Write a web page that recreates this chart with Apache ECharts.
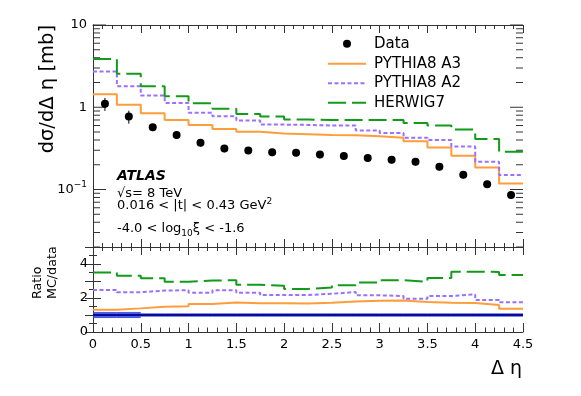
<!DOCTYPE html>
<html><head><meta charset="utf-8">
<script src="https://cdn.jsdelivr.net/npm/echarts@6/dist/echarts.min.js"></script>
<style>html,body{margin:0;padding:0;background:#fff}#c{width:581px;height:396px}</style>
</head><body><div id="c"></div>
<script>
// ---- data ----
const binEdges = [0,0.25,0.5,0.75,1,1.25,1.5,1.75,2,2.25,2.5,2.75,3,3.25,3.5,3.75,4,4.25,4.5];
const dataVals = [1.10,0.77,0.57,0.46,0.37,0.315,0.299,0.283,0.280,0.267,0.255,0.241,0.230,0.218,0.189,0.151,0.116,0.086];
const dataRelErr = [0.18,0.18,0.10,0.10,0.10,0.10,0.10,0.10,0.10,0.10,0.10,0.10,0.10,0.10,0.10,0.10,0.10,0.10];
const pythiaA3 = [1.44,1.07,0.845,0.70,0.61,0.545,0.505,0.48,0.47,0.46,0.456,0.443,0.427,0.385,0.325,0.258,0.185,0.118];
const pythiaA2 = [2.72,1.80,1.39,1.13,0.855,0.775,0.69,0.615,0.61,0.60,0.60,0.52,0.487,0.427,0.40,0.334,0.218,0.150];
const herwig7 = [3.85,2.55,1.80,1.36,1.12,0.96,0.83,0.77,0.71,0.70,0.70,0.70,0.70,0.645,0.60,0.535,0.41,0.288];
const seriesNames = ['Data','PYTHIA8 A3','PYTHIA8 A2','HERWIG7'];
const logMantissas = [1,2,3,4,5,6,7,8,9];
const logDecades = [0.01,0.1,1,10];

const FONT = 'DejaVu Sans';
const C_A3 = '#ff9c3c', C_A2 = '#9a70ff', C_H7 = '#129a1a';

function stepData(vals){
  const d = vals.map((v,i)=>[binEdges[i], v]);
  d.push([binEdges[vals.length], vals[vals.length-1]]);
  return d;
}
function ratio(vals){ return vals.map((v,i)=>v/dataVals[i]); }
const centers = dataVals.map((v,i)=>(binEdges[i]+binEdges[i+1])/2);

// y ticks of log axis (major at decades)
const yTicks = [];
logDecades.forEach(d=>logMantissas.forEach(m=>{
  const v = +(m*d).toPrecision(6);
  if (v >= 0.02 - 1e-9 && v <= 10 + 1e-9) yTicks.push([0, v, m===1?1:0]);
}));

function isDecade(v){ const l = Math.log10(v); return Math.abs(l-Math.round(l))<1e-6; }

const axisLineStyle = {color:'#333', width:1};
function xAx(grid, pos, labels, majLen, minLen){
  return {type:'value', gridIndex:grid, position:pos, min:0, max:4.5, interval:0.5,
    axisLine:{show:true, onZero:false, lineStyle:axisLineStyle},
    axisTick:{show:true, inside:true, length:majLen, lineStyle:{color:'#333'}},
    minorTick:{show:true, splitNumber:5, length:minLen, lineStyle:{color:'#333'}},
    splitLine:{show:false}, minorSplitLine:{show:false},
    axisLabel:{show:labels, margin:6, color:'#000', fontFamily:FONT, fontSize:13}};
}

const chart = echarts.init(document.getElementById('c'), null, {renderer:'canvas'});
chart.setOption({
  animation:false,
  backgroundColor:'#fff',
  grid:[
    {left:93, top:25, width:430, height:222},
    {left:93, top:247, width:430, height:85}
  ],
  xAxis:[
    xAx(0,'bottom',false,8,4),
    xAx(0,'top',false,8,4),
    xAx(1,'bottom',true,9,4.5),
    xAx(1,'top',false,8,4)
  ],
  yAxis:[
    {type:'log', logBase:10, gridIndex:0, position:'left', min:0.02, max:10,
     axisLine:{show:true, lineStyle:axisLineStyle}, axisTick:{show:false}, splitLine:{show:false},
     axisLabel:{margin:6, color:'#000', fontFamily:FONT, fontSize:13,
       formatter:v=>{ if(!isDecade(v)) return ''; const n=Math.round(Math.log10(v));
         if(n===0) return '1'; if(n===1) return '10'; return '{b|10}{s|\u2212' + (-n) + '}'; },
       rich:{b:{fontFamily:FONT, fontSize:13, color:'#000'}, s:{fontFamily:FONT, fontSize:9, color:'#000', padding:[0,0,9,0]}}}},
    {type:'log', logBase:10, gridIndex:0, position:'right', min:0.02, max:10,
     axisLine:{show:true, lineStyle:axisLineStyle}, axisTick:{show:false}, splitLine:{show:false}, axisLabel:{show:false}},
    {type:'value', gridIndex:1, position:'left', min:0, max:5, interval:1,
     axisLine:{show:true, lineStyle:axisLineStyle},
     axisTick:{show:true, inside:true, length:8, lineStyle:{color:'#333'}},
     minorTick:{show:true, splitNumber:2, length:4, lineStyle:{color:'#333'}},
     splitLine:{show:false},
     axisLabel:{margin:5, color:'#000', fontFamily:FONT, fontSize:13, formatter:v=>(v%2===0 && v<5)? String(v):''}},
    {type:'value', gridIndex:1, position:'right', min:0, max:5, interval:1,
     axisLine:{show:true, lineStyle:axisLineStyle},
     axisTick:{show:true, inside:true, length:8, lineStyle:{color:'#333'}},
     minorTick:{show:true, splitNumber:2, length:4, lineStyle:{color:'#333'}},
     splitLine:{show:false}, axisLabel:{show:false}}
  ],
  legend:[
    {data:[{name:'Data', icon:'circle'}], left:343, top:34, padding:0, orient:'vertical', itemWidth:38, itemHeight:8,
     itemStyle:{opacity:1},
     textStyle:{fontFamily:FONT, fontSize:15, color:'#000', lineHeight:19.5, padding:[0,0,0,3]}, selectedMode:false},
    {data:['PYTHIA8 A3','PYTHIA8 A2','HERWIG7'], left:327, top:54, padding:0, orient:'vertical', itemWidth:38, itemHeight:14, itemGap:0,
     itemStyle:{opacity:0},
     textStyle:{fontFamily:FONT, fontSize:15, color:'#000', lineHeight:19.5, padding:[0,0,0,3]}, selectedMode:false}
  ],
  series:[
    // y ticks (log axis, ROOT style)
    {type:'custom', name:'yticks', xAxisIndex:0, yAxisIndex:0, silent:true, clip:false, data:yTicks,
     encode:{x:0, y:1},
     renderItem:(params, api)=>{
       const v = api.value(1), major = api.value(2);
       const pl = api.coord([0, v]), pr = api.coord([4.5, v]);
       const len = major ? 13 : 7;
       return {type:'group', children:[
         {type:'line', shape:{x1:pl[0], y1:pl[1], x2:pl[0]+len, y2:pl[1]}, style:{stroke:'#333', lineWidth:1}},
         {type:'line', shape:{x1:pr[0], y1:pr[1], x2:pr[0]-len, y2:pr[1]}, style:{stroke:'#333', lineWidth:1}}
       ]};
     }},
    {type:'line', name:'PYTHIA8 A3', xAxisIndex:0, yAxisIndex:0, step:'end', symbol:'none', data:stepData(pythiaA3),
     lineStyle:{color:C_A3, width:2}, itemStyle:{color:C_A3}, z:3},
    {type:'line', name:'PYTHIA8 A2', xAxisIndex:0, yAxisIndex:0, step:'end', symbol:'none', data:stepData(pythiaA2),
     lineStyle:{color:C_A2, width:2, type:[4,2.5]}, itemStyle:{color:C_A2}, z:3},
    {type:'line', name:'HERWIG7', xAxisIndex:0, yAxisIndex:0, step:'end', symbol:'none', data:stepData(herwig7),
     lineStyle:{color:C_H7, width:2, type:[18,6]}, itemStyle:{color:C_H7}, z:3},
    // data error bars
    {type:'custom', name:'dataErr', xAxisIndex:0, yAxisIndex:0, silent:true,
     data:dataVals.map((v,i)=>[centers[i], v*(1-dataRelErr[i]), v*(1+dataRelErr[i])]),
     encode:{x:0, y:[1,2]},
     renderItem:(params, api)=>{
       const a = api.coord([api.value(0), api.value(1)]), b = api.coord([api.value(0), api.value(2)]);
       return {type:'line', shape:{x1:a[0], y1:a[1], x2:b[0], y2:b[1]}, style:{stroke:'#000', lineWidth:1}};
     }, z:4},
    {type:'scatter', name:'Data', xAxisIndex:0, yAxisIndex:0, symbol:'circle', symbolSize:8,
     data:dataVals.map((v,i)=>[centers[i], v]), itemStyle:{color:'#000', opacity:1}, z:5},
    // ratio panel
    {type:'custom', name:'band', xAxisIndex:2, yAxisIndex:2, silent:true,
     data:dataVals.map((v,i)=>[binEdges[i], binEdges[i+1], 1-dataRelErr[i], 1+dataRelErr[i]]),
     encode:{x:[0,1], y:[2,3]},
     renderItem:(params, api)=>{
       const p0 = api.coord([api.value(0), api.value(3)]), p1 = api.coord([api.value(1), api.value(2)]);
       return {type:'rect', shape:{x:p0[0], y:p0[1], width:p1[0]-p0[0], height:p1[1]-p0[1]},
         style:{fill:'#2b3fe0', opacity:0.85}};
     }, z:2},
    {type:'line', name:'dataRatio', xAxisIndex:2, yAxisIndex:2, step:'end', symbol:'none',
     data:stepData(dataVals.map(v=>v/v)), lineStyle:{color:'#0a0a9a', width:2}, z:3, silent:true},
    {type:'line', name:'rA3', xAxisIndex:2, yAxisIndex:2, step:'end', symbol:'none', data:stepData(ratio(pythiaA3)),
     lineStyle:{color:C_A3, width:2}, z:3, silent:true},
    {type:'line', name:'rA2', xAxisIndex:2, yAxisIndex:2, step:'end', symbol:'none', data:stepData(ratio(pythiaA2)),
     lineStyle:{color:C_A2, width:2, type:[4,2.5]}, z:3, silent:true},
    {type:'line', name:'rH7', xAxisIndex:2, yAxisIndex:2, step:'end', symbol:'none', data:stepData(ratio(herwig7)),
     lineStyle:{color:C_H7, width:2, type:[18,6]}, z:3, silent:true}
  ],
  graphic:[
    {type:'text', x:48, y:25, rotation:Math.PI/2,
     style:{text:'d\u03c3/d\u0394 \u03b7 [mb]', font:'19.5px "DejaVu Sans"', fill:'#000', align:'right', verticalAlign:'middle'}},
    {type:'text', x:38, y:299, rotation:Math.PI/2,
     style:{text:'Ratio', font:'12.7px "DejaVu Sans"', fill:'#000', align:'left', verticalAlign:'middle'}},
    {type:'text', x:53, y:299, rotation:Math.PI/2,
     style:{text:'MC/data', font:'12.7px "DejaVu Sans"', fill:'#000', align:'left', verticalAlign:'middle'}},
    {type:'text', x:522, y:369,
     style:{text:'\u0394 \u03b7', font:'19px "DejaVu Sans"', fill:'#000', align:'right', verticalAlign:'middle'}},
    {type:'text', x:117, y:176,
     style:{text:'ATLAS', font:'italic bold 14px "DejaVu Sans"', fill:'#000', verticalAlign:'middle'}},
    {type:'text', x:117, y:194,
     style:{text:'\u221as= 8 TeV', font:'13px "DejaVu Sans"', fill:'#000', verticalAlign:'middle'}},
    {type:'text', x:117, y:206,
     style:{text:'0.016 < |t| < 0.43 GeV{sup|2}', font:'13px "DejaVu Sans"', fill:'#000', verticalAlign:'middle',
       rich:{sup:{fontFamily:FONT, fontSize:9, fill:'#000', padding:[0,0,8,0]}}}},
    {type:'text', x:117, y:229,
     style:{text:'-4.0 < log{sub|10}\u03be < -1.6', font:'13px "DejaVu Sans"', fill:'#000', verticalAlign:'middle',
       rich:{sub:{fontFamily:FONT, fontSize:9, fill:'#000', padding:[10,0,0,0]}}}}
  ]
});
</script>
</body></html>
